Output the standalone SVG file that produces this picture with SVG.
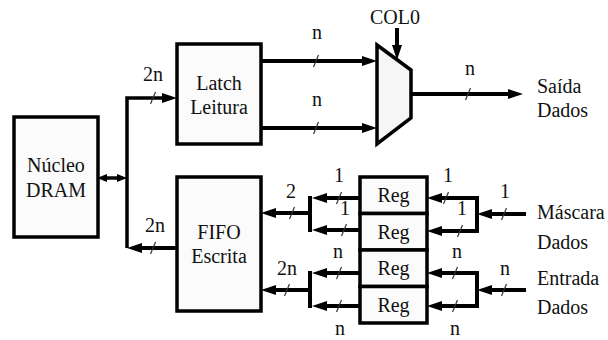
<svg xmlns="http://www.w3.org/2000/svg" width="608" height="340" viewBox="0 0 608 340">
<style>
text{font-family:"Liberation Serif","Times New Roman","DejaVu Serif",serif;font-size:20px;fill:#111;}
.c{text-anchor:middle;}
.box{fill:#fbfbfb;stroke:#000;stroke-width:3.5;}
.mux{fill:#f6f6f6;stroke:#000;stroke-width:3.5;stroke-linejoin:miter;}
.w{fill:none;stroke:#000;stroke-width:4;}
.b{fill:none;stroke:#000;stroke-width:3.5;}
.sl{stroke:#333;stroke-width:1.2;}
</style>
<defs>
<marker id="ah" viewBox="0 0 15 10" refX="5" refY="5" markerWidth="15" markerHeight="10" markerUnits="userSpaceOnUse" orient="auto-start-reverse"><path d="M0,0 L15,5 L0,10 z" fill="#000"/></marker>
<marker id="ahs" viewBox="0 0 10 8" refX="2" refY="4" markerWidth="10" markerHeight="8" markerUnits="userSpaceOnUse" orient="auto-start-reverse"><path d="M0,0 L10,4 L0,8 z" fill="#000"/></marker>
</defs>

<g id="connectors">
<path class="b" d="M127,248 V98 H167" marker-end="url(#ah)"/>
<line class="b" x1="105" y1="178" x2="119" y2="178" stroke-width="3" marker-start="url(#ahs)" marker-end="url(#ahs)"/>
<line class="w" x1="177" y1="248" x2="137" y2="248" marker-end="url(#ah)"/>
<line class="w" x1="261" y1="61" x2="367" y2="61" marker-end="url(#ah)"/>
<line class="w" x1="261" y1="128" x2="367" y2="128" marker-end="url(#ah)"/>
<line class="w" x1="397" y1="28" x2="397" y2="50" marker-end="url(#ah)"/>
<line class="w" x1="411" y1="94" x2="513" y2="94" marker-end="url(#ah)"/>
<line class="w" x1="360" y1="198" x2="322" y2="198" marker-end="url(#ah)"/>
<line class="w" x1="360" y1="230" x2="322" y2="230" marker-end="url(#ah)"/>
<line class="w" x1="310" y1="196" x2="310" y2="232"/>
<line class="w" x1="310" y1="213" x2="271" y2="213" marker-end="url(#ah)"/>
<line class="w" x1="360" y1="273" x2="322" y2="273" marker-end="url(#ah)"/>
<line class="w" x1="360" y1="306" x2="322" y2="306" marker-end="url(#ah)"/>
<line class="w" x1="310" y1="271" x2="310" y2="308"/>
<line class="w" x1="310" y1="290" x2="271" y2="290" marker-end="url(#ah)"/>
<path class="w" d="M437,198 H477 V231 H437" marker-start="url(#ah)" marker-end="url(#ah)"/>
<line class="w" x1="526" y1="214" x2="487" y2="214" marker-end="url(#ah)"/>
<path class="w" d="M437,273 H477 V306 H437" marker-start="url(#ah)" marker-end="url(#ah)"/>
<line class="w" x1="526" y1="290" x2="487" y2="290" marker-end="url(#ah)"/>
<g class="sl">
<line x1="150.5" y1="104" x2="155.5" y2="92"/>
<line x1="313.5" y1="67" x2="318.5" y2="55"/>
<line x1="313.5" y1="134" x2="318.5" y2="122"/>
<line x1="465.5" y1="100" x2="470.5" y2="88"/>
<line x1="150.5" y1="254" x2="155.5" y2="242"/>
<line x1="289.5" y1="219" x2="294.5" y2="207"/>
<line x1="336.5" y1="204" x2="341.5" y2="192"/>
<line x1="341.5" y1="236" x2="346.5" y2="224"/>
<line x1="284.5" y1="296" x2="289.5" y2="284"/>
<line x1="336.5" y1="279" x2="341.5" y2="267"/>
<line x1="336.5" y1="312" x2="341.5" y2="300"/>
<line x1="443.5" y1="204" x2="448.5" y2="192"/>
<line x1="457.5" y1="237" x2="462.5" y2="225"/>
<line x1="501.5" y1="220" x2="506.5" y2="208"/>
<line x1="452.5" y1="279" x2="457.5" y2="267"/>
<line x1="452.5" y1="312" x2="457.5" y2="300"/>
<line x1="501.5" y1="296" x2="506.5" y2="284"/>
</g>
<g>
<text class="c" x="153" y="81">2n</text>
<text class="c" x="317" y="39">n</text>
<text class="c" x="317" y="106">n</text>
<text class="c" x="470" y="75">n</text>
<text class="c" x="155" y="232">2n</text>
<text class="c" x="291" y="198">2</text>
<text class="c" x="339" y="182">1</text>
<text class="c" x="345" y="215">1</text>
<text class="c" x="287" y="275">2n</text>
<text class="c" x="338" y="258">n</text>
<text class="c" x="340" y="335">n</text>
<text class="c" x="448" y="182">1</text>
<text class="c" x="462" y="215">1</text>
<text class="c" x="505" y="198">1</text>
<text class="c" x="457" y="258">n</text>
<text class="c" x="505" y="275">n</text>
<text class="c" x="455" y="335">n</text>
</g>
</g>

<g id="dram">
<rect class="box" x="14" y="117" width="84" height="120"/>
<text class="c" x="56" y="172">Núcleo</text>
<text class="c" x="56" y="197">DRAM</text>
</g>
<g id="latch">
<rect class="box" x="177" y="44" width="84" height="100"/>
<text class="c" x="219" y="90">Latch</text>
<text class="c" x="219" y="114">Leitura</text>
</g>
<g id="fifo">
<rect class="box" x="177" y="177" width="84" height="134"/>
<text class="c" x="219" y="239">FIFO</text>
<text class="c" x="219" y="263">Escrita</text>
</g>
<g id="mux">
<polygon class="mux" points="377,45 411,70 411,118 377,144"/>
</g>
<g id="reg1">
<rect class="box" x="360" y="177" width="67" height="36.5"/>
<text class="c" x="393.5" y="202">Reg</text>
</g>
<g id="reg2">
<rect class="box" x="360" y="213.5" width="67" height="36.5"/>
<text class="c" x="393.5" y="238.5">Reg</text>
</g>
<g id="reg3">
<rect class="box" x="360" y="250" width="67" height="36.5"/>
<text class="c" x="393.5" y="275">Reg</text>
</g>
<g id="reg4">
<rect class="box" x="360" y="286.5" width="67" height="36.5"/>
<text class="c" x="393.5" y="311.5">Reg</text>
</g>
<g id="col0">
<text class="c" x="395" y="24">COL0</text>
</g>
<g id="saida">
<text x="537" y="93">Saída</text>
<text x="537" y="117">Dados</text>
</g>
<g id="mascara">
<text x="537" y="219">Máscara</text>
<text x="537" y="249">Dados</text>
</g>
<g id="entrada">
<text x="537" y="285">Entrada</text>
<text x="537" y="314">Dados</text>
</g>
</svg>
